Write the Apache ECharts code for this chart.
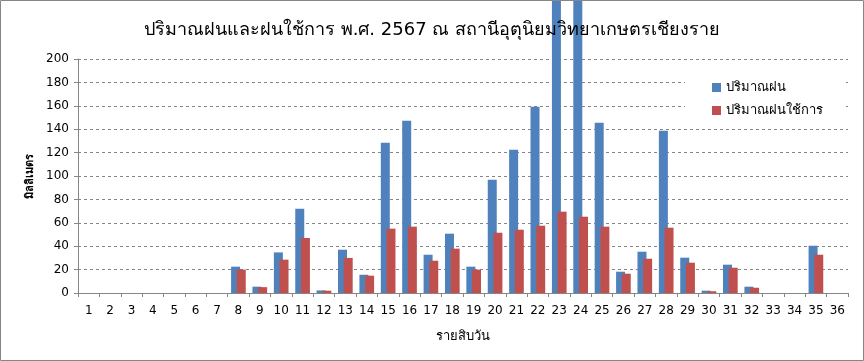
<!DOCTYPE html>
<html>
<head>
<meta charset="utf-8">
<script src="https://cdn.jsdelivr.net/npm/echarts@6/dist/echarts.min.js"></script>
<style>
html,body{margin:0;padding:0;background:#fff;}
#c{width:864px;height:361px;}
</style>
</head>
<body>
<div id="c"></div>
<script>
var categories = ['1','2','3','4','5','6','7','8','9','10','11','12','13','14','15','16','17','18','19','20','21','22','23','24','25','26','27','28','29','30','31','32','33','34','35','36'];
var rainfall = [0,0,0,0,0,0,0,22.5,5.4,34.7,72,2.2,37,15.6,128.5,147.3,32.7,50.7,22.5,96.8,122.5,159.2,256,252,145.5,18.2,35.3,138.7,30.2,2,24.2,5.4,0,0,40.4,0];
var effective = [0,0,0,0,0,0,0,20,5,28.5,47,2,30,14.8,55,56.7,27.6,37.9,20,51.5,54.1,57.5,69.5,65.2,56.7,16.5,29.3,55.8,25.9,1.5,21.6,4.5,0,0,32.7,0];
var yTicks = [0,20,40,60,80,100,120,140,160,180,200];
var seriesNames = ['ปริมาณฝน','ปริมาณฝนใช้การ'];
var titleText = 'ปริมาณฝนและฝนใช้การ พ.ศ. 2567 ณ สถานีอุตุนิยมวิทยาเกษตรเชียงราย';
var xName = 'รายสิบวัน';
var yName = 'มิลลิเมตร';

var FONT = 'Tahoma, "DejaVu Sans", "Noto Sans", sans-serif';
var chart = echarts.init(document.getElementById('c'), null, {renderer:'canvas'});
chart.setOption({
  animation:false,
  backgroundColor:'#fff',
  textStyle:{fontFamily:FONT},
  title:{text:titleText,left:'center',top:16,textStyle:{fontSize:18,fontWeight:'normal',color:'#000',fontFamily:FONT}},
  graphic:[{type:'rect',shape:{x:0.5,y:0.5,width:863,height:360},style:{fill:'none',stroke:'#868686',lineWidth:1},z:100}],
  legend:{
    orient:'vertical',left:685,top:75,
    padding:[6,20,6,27],itemGap:10,itemWidth:9,itemHeight:9,
    backgroundColor:'#fff',
    icon:'rect',
    textStyle:{fontSize:13,color:'#000',fontFamily:FONT},
    data:seriesNames
  },
  grid:{left:78,right:16,top:59,bottom:68,containLabel:false},
  xAxis:{
    type:'category',data:categories,
    name:xName,nameLocation:'middle',nameGap:37,
    nameTextStyle:{fontSize:13,color:'#000',fontFamily:FONT},
    axisLine:{lineStyle:{color:'#868686'}},
    axisTick:{show:true,alignWithLabel:false,length:4,lineStyle:{color:'#868686'}},
    axisLabel:{fontSize:12,color:'#000',margin:12,interval:0,fontFamily:FONT}
  },
  yAxis:{
    type:'value',min:0,max:200,interval:20,
    name:yName,nameLocation:'middle',nameGap:40,nameRotate:90,
    nameTextStyle:{fontSize:11,color:'#000',fontWeight:'bold',fontFamily:FONT},
    axisLine:{show:true,lineStyle:{color:'#868686'}},
    axisTick:{show:true,length:4,lineStyle:{color:'#868686'}},
    axisLabel:{fontSize:12,color:'#000',margin:9,fontFamily:FONT,
      formatter:function(v){return yTicks.indexOf(v)>=0?String(v):'';}},
    splitLine:{show:true,lineStyle:{color:'#868686',type:[3,3],width:1}}
  },
  series:[
    {name:seriesNames[0],type:'bar',data:rainfall,barWidth:9,barGap:'-37%',itemStyle:{color:'#4F81BD'},clip:false,z:2},
    {name:seriesNames[1],type:'bar',data:effective,barWidth:9,barGap:'-37%',itemStyle:{color:'#C0504D'},clip:false,z:3}
  ]
});
</script>
</body>
</html>
